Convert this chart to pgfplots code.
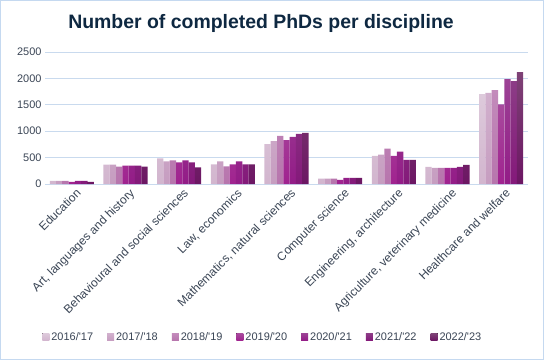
\documentclass[border=0pt]{standalone}
\usepackage{pgfplots}
\pgfplotsset{compat=1.18}
\usepackage{pgfplotstable}
\usepackage{fontspec}
\setmainfont{Liberation Sans}
\definecolor{titlec}{HTML}{0E2841}
\definecolor{tickc}{HTML}{3A4555}
\definecolor{gridc}{HTML}{C9DAEE}
\definecolor{borderc}{HTML}{C5D9F0}
\definecolor{aT}{HTML}{DDCADB}\definecolor{aB}{HTML}{D2B5CE}
\definecolor{bT}{HTML}{D1B0CD}\definecolor{bB}{HTML}{C69DC0}
\definecolor{cT}{HTML}{C38BBB}\definecolor{cB}{HTML}{B775AD}
\definecolor{dT}{HTML}{A84A9D}\definecolor{dB}{HTML}{A0228F}
\definecolor{eT}{HTML}{9C4295}\definecolor{eB}{HTML}{931C87}
\definecolor{fT}{HTML}{8C3C86}\definecolor{fB}{HTML}{84197A}
\definecolor{gT}{HTML}{7E4276}\definecolor{gB}{HTML}{6C1663}
\pgfplotstableread{
x a b c d e f g
0 60 60 60 40 60 60 40
1 365 365 327 346 346 346 327
2 487 429 449 410 449 410 314
3 372 429 333 372 429 372 372
4 756 814 910 833 891 949 968
5 100 100 100 80 115 115 115
6 535 554 669 535 611 459 459
7 325 306 306 306 306 325 363
8 1701 1726 1777 1510 1987 1949 2121
}\data
\begin{document}
\begin{tikzpicture}
\path[use as bounding box] (0,0) rectangle (544bp,360bp);
\draw[borderc, line width=1.2bp] (0.6bp,0.6bp) rectangle (543.4bp,359.4bp);
\node[font=\fontsize{19.5}{22}\selectfont\bfseries, text=titlec] at (261bp,337bp) {Number of completed PhDs per discipline};
\begin{axis}[
  at={(45bp,176bp)}, anchor=south west,
  scale only axis, width=483bp, height=132bp,
  ybar=0pt, bar width=6.3bp,
  xmin=-0.5, xmax=8.5, ymin=0, ymax=2500,
  ytick={0,500,1000,1500,2000,2500},
  xtick=data,
  xticklabels={Education,{Art, languages and history},Behavioural and social sciences,{Law, economics},{Mathematics, natural sciences},Computer science,{Engineering, architecture},{Agriculture, veterinary medicine},Healthcare and welfare},
  x tick label style={rotate=45, anchor=north east, font=\fontsize{12}{14}\selectfont, text=tickc, inner sep=1pt, xshift=1bp, yshift=-4bp},
  y tick label style={font=\fontsize{11}{13}\selectfont, text=tickc},
  /pgf/number format/assume math mode=true,
  /pgf/number format/1000 sep={},
  major tick length=0pt,
  axis line style={draw=none},
  ymajorgrids, grid style={gridc, line width=1bp},
  legend style={at={(0.451,-1.159)}, anchor=center, draw=none, legend columns=7,
    font=\fontsize{11}{13}\selectfont, text=tickc,
    /tikz/every even column/.append style={column sep=12bp}},
  legend image code/.code={\fill[#1] (0bp,-3.5bp) rectangle (7bp,3.5bp);},
  clip=false,
]
\addplot[draw=none, top color=aT, bottom color=aB] table[x=x,y=a]{\data};
\addplot[draw=none, top color=bT, bottom color=bB] table[x=x,y=b]{\data};
\addplot[draw=none, top color=cT, bottom color=cB] table[x=x,y=c]{\data};
\addplot[draw=none, top color=dT, bottom color=dB] table[x=x,y=d]{\data};
\addplot[draw=none, top color=eT, bottom color=eB] table[x=x,y=e]{\data};
\addplot[draw=none, top color=fT, bottom color=fB] table[x=x,y=f]{\data};
\addplot[draw=none, top color=gT, bottom color=gB] table[x=x,y=g]{\data};
\legend{2016/\textquotesingle17,2017/\textquotesingle18,2018/\textquotesingle19,2019/\textquotesingle20,2020/\textquotesingle21,2021/\textquotesingle22,2022/\textquotesingle23}
\end{axis}
\end{tikzpicture}
\end{document}
